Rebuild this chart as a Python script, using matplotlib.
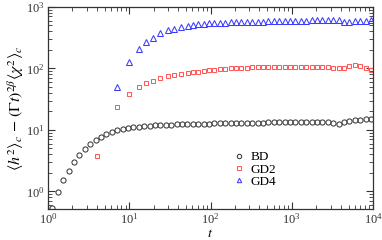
import matplotlib

matplotlib.use("Agg")
import matplotlib.pyplot as plt  # noqa: E402

plt.rcParams["font.family"] = ["Liberation Serif", "DejaVu Serif"]
plt.rcParams["mathtext.fontset"] = "stix"

# tempos comuns (BD e parte final das GD)
t_bd = [1.13, 1.32, 1.53, 1.79, 2.08, 2.43, 2.83, 3.30, 3.85, 4.48,
        5.22, 6.09, 7.10, 8.27, 9.64, 11.2, 13.1, 15.3, 17.8, 20.7,
        24.2, 28.2, 32.8, 38.2, 44.6, 52.0, 60.5, 70.6, 82.2, 95.8,
        112, 130, 152, 177, 206, 240, 280, 326, 380, 443,
        516, 602, 701, 817, 953, 1110, 1294, 1508, 1758, 2049,
        2388, 2783, 3243, 3780, 4406, 5134, 5984, 6974, 8128, 9473]
y_bd = [0.54, 0.96, 1.52, 2.16, 2.97, 3.91, 4.81, 5.79, 6.82, 7.80,
        8.5, 9.3, 9.9, 10.4, 10.7, 11.0, 11.3, 11.5, 11.7, 11.9,
        12.0, 12.1, 12.2, 12.3, 12.4, 12.5, 12.55, 12.6, 12.65, 12.7,
        12.75, 12.8, 12.85, 12.9, 12.95, 13.0, 13.05, 13.1, 13.1, 13.15,
        13.2, 13.25, 13.3, 13.3, 13.35, 13.4, 13.4, 13.45, 13.45, 13.5,
        13.4, 13.4, 12.8, 12.6, 13.4, 14.0, 14.4, 14.7, 15.0, 15.3]

t_gd_ini = [4.0, 7.0, 10.0, 13.0, 16.0, 19.4, 24.0, 30.0, 36.0, 43.0, 53.0]
t_gd = t_gd_ini + t_bd[26:]

y_gd2 = [3.7, 23.5, 39, 50.6, 58, 63, 69, 74, 78, 81, 84,
         87.8, 89, 91, 93, 96, 98, 99, 101, 102, 103,
         103.5, 104, 104.5, 105, 105.5, 106, 106, 106, 106, 106,
         106, 106, 106, 106, 106, 105.5, 102.5, 102.5, 103.5, 109,
         113, 109, 103.5, 93]

y_gd4 = [49, 128, 204, 265, 316, 372, 420, 446, 478, 494,
         516, 523, 533, 543, 549, 553, 558, 562, 566, 570,
         573, 576, 578, 580, 583, 586, 590, 594, 596, 598,
         600, 602, 604, 606, 608, 610, 625, 615, 565, 570,
         585, 595, 600, 605]

fig = plt.figure(figsize=(3.82, 2.40), dpi=100)
ax = fig.add_axes([0.1257, 0.13, 0.8507, 0.841])

cinza, vermelho, azul = "#3a3a3a", "#ff5a5a", "#3c3cff"
ax.plot(t_bd, y_bd, ls="none", marker="o", ms=3.7, mfc="none", mec=cinza, mew=0.75, label="BD")
ax.plot(t_gd, y_gd2, ls="none", marker="s", ms=3.3, mfc="none", mec=vermelho, mew=0.75, label="GD2")
ax.plot(t_gd[1:], y_gd4, ls="none", marker="^", ms=3.7, mfc="none", mec=azul, mew=0.75, label="GD4")

ax.set_xscale("log")
ax.set_yscale("log")
ax.set_xlim(1, 1e4)
ax.set_ylim(0.52, 1e3)

ax.tick_params(which="both", direction="in", top=True, right=True, labelsize=9, colors="#333333")
ax.tick_params(which="major", length=5, width=0.8, pad=2.5)
ax.tick_params(which="minor", length=2.8, width=0.6)
for s in ax.spines.values():
    s.set_color("#333333")
    s.set_linewidth(0.9)

ax.set_xlabel(r"$t$", fontsize=10)
ax.xaxis.set_label_coords(0.5, -0.088)
ax.set_ylabel(r"$\langle h^2\rangle_c\,-\,(\Gamma t)^{2\beta}\langle \chi^2\rangle_c$", fontsize=11.5, labelpad=0)

ax.legend(loc="center left", bbox_to_anchor=(0.54, 0.195), frameon=False, fontsize=9.5,
          handlelength=0.9, handletextpad=0.45, labelspacing=0.0, borderpad=0.2, markerscale=0.85)

fig.savefig("out.png", dpi=100)
